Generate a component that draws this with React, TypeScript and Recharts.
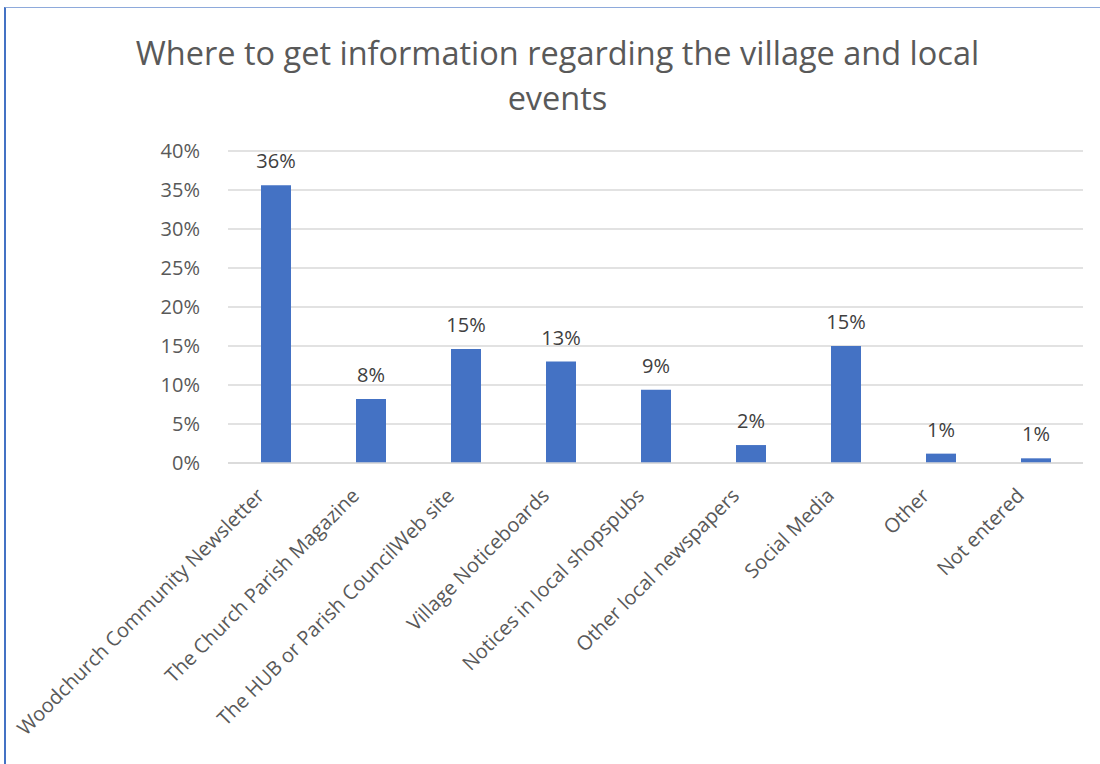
import React from 'react';
import { BarChart, Bar, XAxis, YAxis, CartesianGrid, LabelList } from 'recharts';

const categories = [
  'Woodchurch Community Newsletter',
  'The Church Parish Magazine',
  'The HUB or Parish CouncilWeb site',
  'Village Noticeboards',
  'Notices in local shopspubs',
  'Other local newspapers',
  'Social Media',
  'Other',
  'Not entered',
];
const shares = [0.356, 0.082, 0.146, 0.13, 0.094, 0.023, 0.15, 0.012, 0.006];
const yTicks = [0, 0.05, 0.1, 0.15, 0.2, 0.25, 0.3, 0.35, 0.4];

const data = categories.map((name, i) => ({ name, value: shares[i] }));

const pct = (v: number) => `${Math.round(v * 100)}%`;

const CategoryTick = (props: any) => {
  const { x, y, payload } = props;
  return (
    <g transform={`translate(${x - 15},${y + 21})`}>
      <text
        x={0}
        y={0}
        dy="0.35em"
        textAnchor="end"
        transform="rotate(-45)"
        fill="#595959"
        fontSize={20}
        fontFamily="'Open Sans', sans-serif"
      >
        {payload.value}
      </text>
    </g>
  );
};

const App: React.FC = () => {
  return (
    <div style={{ position: 'fixed', left: 0, top: 0, width: 1100, height: 764, background: '#fff' }}>
      <div
        style={{
          position: 'absolute',
          left: 4,
          top: 7,
          width: 1096,
          height: 757,
          borderTop: '1.5px solid #8eaadb',
          borderLeft: '2px solid #4472c4',
        }}
      />
      <div
        style={{
          position: 'absolute',
          left: 0,
          top: 30,
          width: 1115,
          textAlign: 'center',
          fontFamily: "'Open Sans', sans-serif",
          fontSize: 32.5,
          lineHeight: '45px',
          color: '#595959',
        }}
      >
        Where to get information regarding the village and local
        <br />
        events
      </div>
      <div style={{ position: 'absolute', left: 0, top: 0 }}>
        <BarChart width={1100} height={764} data={data} margin={{ top: 151, right: 17, bottom: 0, left: 0 }}>
          <CartesianGrid vertical={false} stroke="#d9d9d9" strokeWidth={1.5} />
          <XAxis
            dataKey="name"
            interval={0}
            height={301}
            tickLine={false}
            axisLine={{ stroke: '#d9d9d9', strokeWidth: 1.5 }}
            tick={<CategoryTick />}
          />
          <YAxis
            width={228}
            domain={[0, 0.4]}
            ticks={yTicks}
            tickFormatter={pct}
            axisLine={false}
            tickLine={false}
            tickMargin={22}
            tick={{ fill: '#595959', fontSize: 20, fontFamily: "'Open Sans', sans-serif" }}
          />
          <Bar dataKey="value" fill="#4472c4" barSize={30} isAnimationActive={false}>
            <LabelList
              dataKey="value"
              position="top"
              offset={17}
              formatter={pct}
              fill="#404040"
              fontSize={20}
              fontFamily="'Open Sans', sans-serif"
            />
          </Bar>
        </BarChart>
      </div>
    </div>
  );
};

export default App;
